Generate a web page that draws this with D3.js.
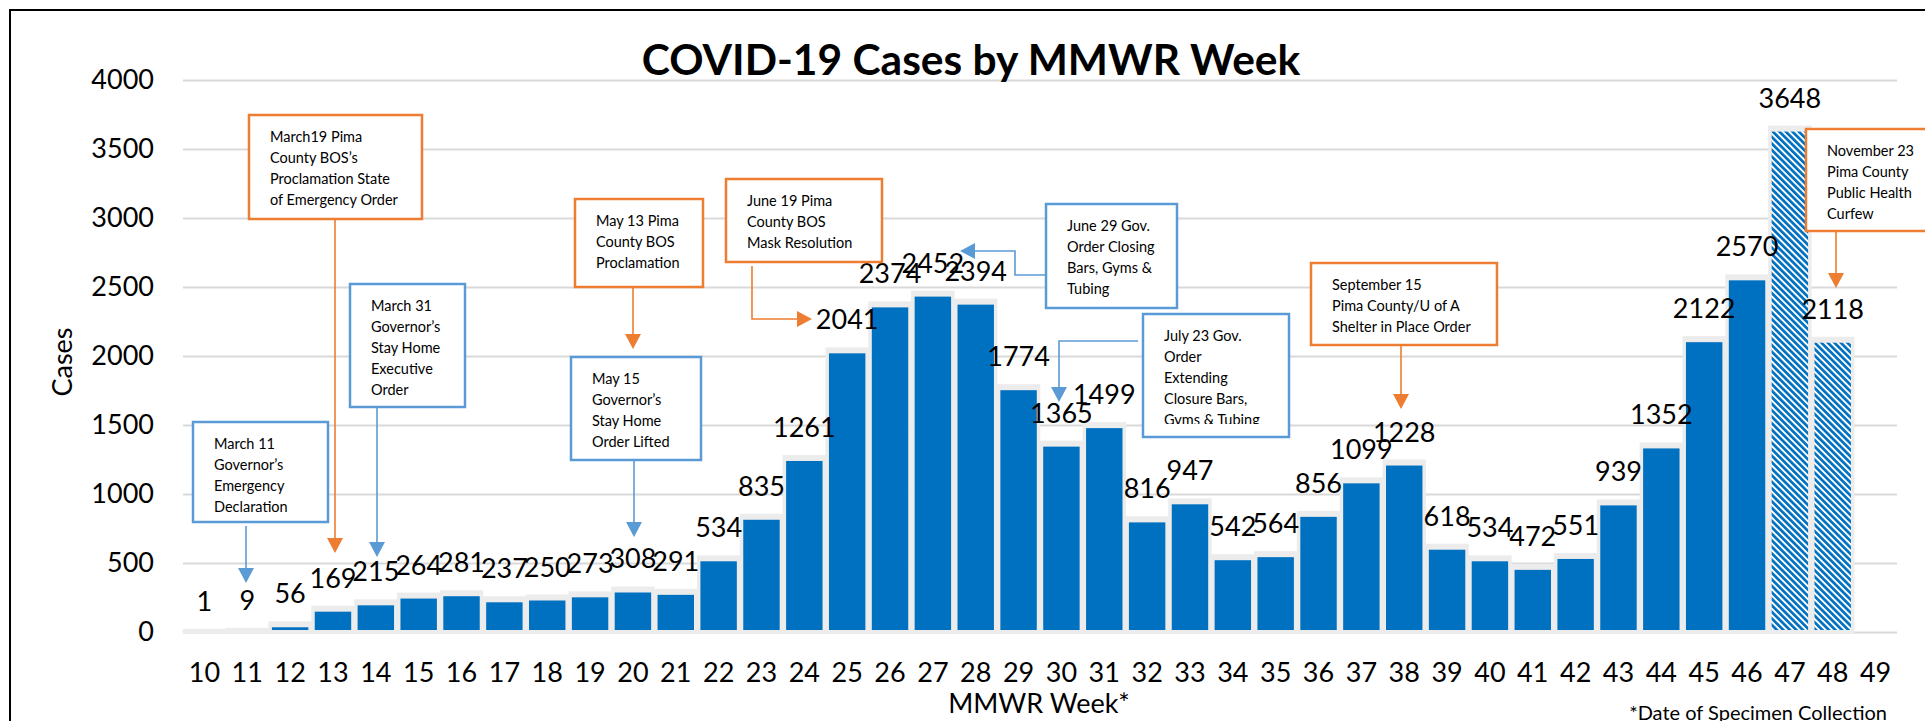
<!DOCTYPE html>
<html>
<head>
<meta charset="utf-8">
<script src="https://cdn.jsdelivr.net/npm/d3@7"></script>
<style>
body { margin: 0; background: #fff; }
text { font-family: Lato, "Open Sans", sans-serif; }
</style>
</head>
<body>
<script>
// data
var weeks = [10,11,12,13,14,15,16,17,18,19,20,21,22,23,24,25,26,27,28,29,
             30,31,32,33,34,35,36,37,38,39,40,41,42,43,44,45,46,47,48,49];
var cases = [1,9,56,169,215,264,281,237,250,273,308,291,534,835,1261,2041,2374,2452,2394,1774,
             1365,1499,816,947,542,564,856,1099,1228,618,534,472,551,939,1352,2122,2570,3648,2118];
var incompleteWeeks = [47, 48];
var yTicks = [0,500,1000,1500,2000,2500,3000,3500,4000];

var noteTexts = [
  ["March19 Pima", "County BOS\u2019s", "Proclamation State", "of Emergency Order"],
  ["March 31", "Governor\u2019s", "Stay Home", "Executive", "Order"],
  ["March 11", "Governor\u2019s", "Emergency", "Declaration"],
  ["May 13 Pima", "County BOS", "Proclamation"],
  ["May 15", "Governor\u2019s", "Stay Home", "Order Lifted"],
  ["June 19 Pima", "County BOS", "Mask Resolution"],
  ["June 29 Gov.", "Order Closing", "Bars, Gyms &", "Tubing"],
  ["July 23 Gov.", "Order", "Extending", "Closure Bars,", "Gyms & Tubing"],
  ["September 15", "Pima County/U of A", "Shelter in Place Order"],
  ["November 23", "Pima County", "Public Health", "Curfew"]
];
var noteKinds = ["county","gov","gov","county","gov","county","gov","gov","county","county"];

// layout of the callouts (box and arrow path, arrow tip last)
var noteLayout = [
  {x:249, y:115, w:173, h:104, arrow:[[335,219],[335,553]]},
  {x:350, y:284, w:115, h:123, arrow:[[377,407],[377,557]]},
  {x:193, y:422, w:135, h:100, arrow:[[246,526],[246,583]]},
  {x:575, y:199, w:128, h:88,  arrow:[[633,287],[633,349]]},
  {x:571, y:357, w:130, h:103, arrow:[[634,460],[634,537]]},
  {x:726, y:179, w:156, h:83,  arrow:[[752,266],[752,319],[812,319]]},
  {x:1046, y:204, w:131, h:104, arrow:[[1046,275],[1015,275],[1015,251],[960,251]]},
  {x:1143, y:314, w:146, h:123, arrow:[[1138,341],[1059,341],[1059,402]], clip:424},
  {x:1311, y:263, w:186, h:82,  arrow:[[1401,345],[1401,409]]},
  {x:1806, y:129, w:135, h:102, arrow:[[1836,231],[1836,288]]}
];

var width = 1925, height = 721;
var blue = "#0070C0", halo = "#ececec";
var colors = {county: "#ED7D31", gov: "#5B9BD5"};

var svg = d3.select("body").append("svg")
    .attr("width", width)
    .attr("height", height);

var defs = svg.append("defs");
var hatch = defs.append("pattern")
    .attr("id", "hatch")
    .attr("patternUnits", "userSpaceOnUse")
    .attr("width", 4.6).attr("height", 4.6)
    .attr("patternTransform", "rotate(-45)");
hatch.append("rect").attr("width", 4.6).attr("height", 4.6).attr("fill", "#fff");
hatch.append("rect").attr("width", 2.7).attr("height", 4.6).attr("fill", blue);

var x = d3.scaleBand()
    .domain(weeks)
    .range([183, 1897])
    .paddingInner(0.15)
    .paddingOuter(0.075);

var y = d3.scaleLinear()
    .domain([0, 4000])
    .range([632, 80]);

// gridlines + y labels
var yAxis = svg.append("g")
    .attr("transform", "translate(183,0)")
    .call(d3.axisLeft(y).tickValues(yTicks).tickFormat(d3.format("d"))
        .tickSize(-(1897 - 183)).tickPadding(29));
yAxis.select(".domain").remove();
yAxis.selectAll("line").attr("stroke", "#d9d9d9").attr("stroke-width", 2);
yAxis.selectAll("text")
    .attr("font-family", "Lato").attr("font-size", 27).attr("fill", "#000");

// x labels
var xAxis = svg.append("g")
    .attr("transform", "translate(0,632)")
    .call(d3.axisBottom(x).tickSize(0).tickPadding(31));
xAxis.select(".domain").remove();
xAxis.selectAll("text")
    .attr("font-family", "Lato").attr("font-size", 27).attr("fill", "#000");

var data = cases.map(function(v, i) { return {week: weeks[i], value: v}; });
var bw = x.bandwidth();

// light halo round each bar
svg.append("g").selectAll("rect")
    .data(data)
    .join("rect")
    .attr("x", d => x(d.week) - 3.5)
    .attr("y", d => y(d.value) - 3)
    .attr("width", bw + 7)
    .attr("height", d => y(0) - y(d.value) + 4)
    .attr("fill", halo);

svg.append("g").selectAll("rect")
    .data(data)
    .join("rect")
    .attr("x", d => x(d.week))
    .attr("y", d => Math.min(y(d.value) + 3, y(0) - 2))
    .attr("width", bw)
    .attr("height", d => Math.max(0, y(0) - 2 - (y(d.value) + 3)))
    .attr("fill", d => incompleteWeeks.indexOf(d.week) >= 0 ? "url(#hatch)" : blue);

// value labels
svg.append("g").selectAll("text")
    .data(data)
    .join("text")
    .attr("x", d => x(d.week) + bw / 2)
    .attr("y", d => y(d.value) - 21)
    .attr("text-anchor", "middle")
    .attr("font-size", 27)
    .attr("fill", "#000")
    .text(d => d.value);

// titles
svg.append("text")
    .attr("x", 971).attr("y", 75)
    .attr("text-anchor", "middle")
    .attr("font-size", 42.5).attr("font-weight", "bold")
    .text("COVID-19 Cases by MMWR Week");

svg.append("text")
    .attr("transform", "translate(72,362) rotate(-90)")
    .attr("text-anchor", "middle")
    .attr("font-size", 27)
    .text("Cases");

svg.append("text")
    .attr("x", 1039).attr("y", 713)
    .attr("text-anchor", "middle")
    .attr("font-size", 27)
    .text("MMWR Week*");

svg.append("text")
    .attr("x", 1887).attr("y", 720)
    .attr("text-anchor", "end")
    .attr("font-size", 20)
    .text("*Date of Specimen Collection");

// callouts
var notes = svg.append("g");
noteLayout.forEach(function(n, i) {
  var c = colors[noteKinds[i]];
  var pts = n.arrow;
  var tip = pts[pts.length - 1], prev = pts[pts.length - 2];
  var dx = tip[0] - prev[0], dy = tip[1] - prev[1];
  var len = Math.sqrt(dx * dx + dy * dy), ux = dx / len, uy = dy / len;
  var base = [tip[0] - ux * 15, tip[1] - uy * 15];
  var linePts = pts.slice(0, -1).concat([base]);
  notes.append("path")
      .attr("d", d3.line()(linePts))
      .attr("fill", "none")
      .attr("stroke", c)
      .attr("stroke-width", 1.6);
  notes.append("path")
      .attr("d", d3.line()([tip, [base[0] - uy * 8, base[1] + ux * 8], [base[0] + uy * 8, base[1] - ux * 8]]) + "Z")
      .attr("fill", c);

  notes.append("rect")
      .attr("x", n.x).attr("y", n.y)
      .attr("width", n.w).attr("height", n.h)
      .attr("fill", "#fff")
      .attr("stroke", c)
      .attr("stroke-width", 2.5);

  var t = notes.append("text")
      .attr("font-size", 14.5)
      .attr("fill", "#000");
  if (n.clip) {
    defs.append("clipPath").attr("id", "clip" + i)
      .append("rect").attr("x", n.x).attr("y", n.y).attr("width", n.w).attr("height", n.clip - n.y);
    t.attr("clip-path", "url(#clip" + i + ")");
  }
  noteTexts[i].forEach(function(s, k) {
    t.append("tspan")
        .attr("x", n.x + 21)
        .attr("y", n.y + 27 + k * 21)
        .text(s);
  });
});

// frame
svg.append("path")
    .attr("d", "M10,721V10H1925")
    .attr("fill", "none")
    .attr("stroke", "#000")
    .attr("stroke-width", 2);
</script>
</body>
</html>
